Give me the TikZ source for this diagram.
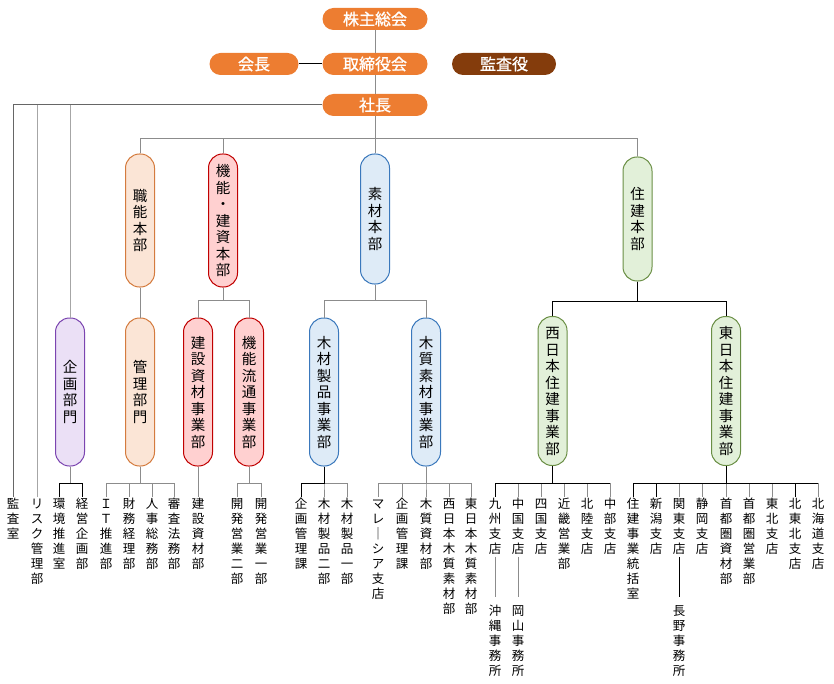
\documentclass[tikz,border=0pt]{standalone}
\usepackage{fontspec}
\setmainfont{Noto Sans CJK JP}
\newfontfamily\pillfont{Noto Sans CJK JP}[FakeBold=1.2]
\makeatletter
\newcommand\vstack[2][15pt]{\vbox{\baselineskip=#1\lineskiplimit=-100pt\lineskip=0pt\@tfor\vs@c:=#2\do{\hbox to 1em{\hss\vrule height .88em depth .12em width 0pt\relax\vs@c\hss}}}}
\makeatother
\definecolor{orangeC}{HTML}{ED7D31}
\definecolor{brownC}{HTML}{843C0C}
\definecolor{linegray}{HTML}{8C8C8C}
\definecolor{orfill}{HTML}{FBE5D6}\definecolor{ordraw}{HTML}{D47B3E}
\definecolor{rdfill}{HTML}{FFD0D0}\definecolor{rddraw}{HTML}{C00000}
\definecolor{blfill}{HTML}{DEEBF7}\definecolor{bldraw}{HTML}{3A78BC}
\definecolor{grfill}{HTML}{E2F0D9}\definecolor{grdraw}{HTML}{6A8F45}
\definecolor{pufill}{HTML}{EBE0F6}\definecolor{pudraw}{HTML}{7B45B0}
\tikzset{
  pill/.style={rounded corners=11pt, fill=orangeC, minimum width=105pt, minimum height=22pt,
    text=white, inner sep=0pt, font=\pillfont\fontsize{16}{16}\selectfont},
  vbx/.style={rounded corners=14pt, minimum width=29pt, line width=1pt, inner sep=0pt,
    font=\fontsize{14.5}{16}\selectfont},
  orbox/.style={vbx, fill=orfill, draw=ordraw},
  rdbox/.style={vbx, fill=rdfill, draw=rddraw},
  blbox/.style={vbx, fill=blfill, draw=bldraw},
  grbox/.style={vbx, fill=grfill, draw=grdraw},
  pubox/.style={vbx, fill=pufill, draw=pudraw},
  leaf/.style={anchor=north, inner sep=0pt, font=\fontsize{12.5}{15}\selectfont},
  conn/.style={line width=1pt, linegray},
}
\newcommand\leaf[3]{\node[leaf] (#1) at (#2,497) {\vstack{#3}};}
\newcommand\sub[3]{\node[leaf] (#1) at (#2,604) {\vstack{#3}};}
\newcommand\conn[3][linegray]{\draw[conn,#1] (#2.south) -- (#2.south |- yb) -| (#3.north);}
\begin{document}
\begin{tikzpicture}[x=1pt,y=-1pt]
\useasboundingbox (0,0) rectangle (834,684);
\coordinate (yb) at (0,483);
\coordinate (y2) at (0,139);
\coordinate (y3) at (0,300);
% top
\node[pill] (kabu) at (375,19) {株主総会};
\node[pill, minimum width=89pt] (kaicho) at (254,64) {会長};
\node[pill] (tori) at (375,64) {取締役会};
\node[pill, fill=brownC, minimum width=104pt] (kansayaku) at (504,64) {監査役};
\node[pill] (shacho) at (375,105) {社長};
\draw[conn] (kabu) -- (tori);
\draw[conn, black] (kaicho) -- (tori);
\draw[conn] (tori) -- (shacho);
% level 2
\node[orbox, minimum height=133pt] (shokuno) at (140,220.5) {\vstack[16.5pt]{職能本部}};
\node[rdbox, minimum height=133pt] (kinou) at (223,220.5) {\vstack[16.5pt]{機能・建資本部}};
\node[blbox, minimum height=130pt] (sozai) at (375,219) {\vstack[16.5pt]{素材本部}};
\node[grbox, minimum height=124pt] (juken) at (637.5,219) {\vstack[16.5pt]{住建本部}};
\draw[conn] (shacho) -- (sozai);
\draw[conn] (shokuno.north) |- (juken.north |- y2) -- (juken.north);
\draw[conn] (kinou.north) -- (kinou.north |- y2);
% level 3
\node[pubox, minimum height=148pt] (kikakubu) at (70,392) {\vstack[16.5pt]{企画部門}};
\node[orbox, minimum height=148pt] (kanri) at (140,392) {\vstack[16.5pt]{管理部門}};
\node[rdbox, minimum height=148pt] (kensetsu) at (198,392) {\vstack[16.5pt]{建設資材事業部}};
\node[rdbox, minimum height=148pt] (ryutsu) at (249,392) {\vstack[16.5pt]{機能流通事業部}};
\node[blbox, minimum height=148pt] (mokuzai) at (324,392) {\vstack[16.5pt]{木材製品事業部}};
\node[blbox, minimum height=148pt] (mokushitsu) at (426,392) {\vstack[16.5pt]{木質素材事業部}};
\node[grbox, minimum height=149pt] (nishi) at (552.5,391) {\vstack[16.5pt]{西日本住建事業部}};
\node[grbox, minimum height=149pt] (higashi) at (726,391) {\vstack[16.5pt]{東日本住建事業部}};
\draw[conn] (shokuno) -- (kanri);
\draw[conn] (kinou.south) -- (kinou.south |- y3);
\draw[conn] (kensetsu.north) |- (ryutsu.north |- y3) -- (ryutsu.north);
\draw[conn] (sozai.south) -- (sozai.south |- y3);
\draw[conn] (mokuzai.north) |- (mokushitsu.north |- y3) -- (mokushitsu.north);
\draw[conn, black] (juken.south) -- (juken.south |- 0,301);
\draw[conn, black] (nishi.north) |- (higashi.north |- 0,301) -- (higashi.north);
% leaves
\leaf{kansa}{13}{監査室}
\leaf{risk}{37}{リスク管理部}
\draw[conn, gray!80!black] (shacho.west) -| (kansa.north);
\draw[conn, gray!70] (shacho.west -| risk.north) -- (risk.north);
\draw[conn, gray!70] (shacho.west -| kikakubu.north) -- (kikakubu.north);
\leaf{kankyo}{59}{環境推進室}
\leaf{keiei}{82}{経営企画部}
\draw[conn] (kikakubu.south) -- (kikakubu.south |- yb);
\draw[conn, black] (kankyo.north) |- (keiei.north |- yb) -- (keiei.north);
\leaf{it}{106}{ＩＴ推進部}
\leaf{zaimu}{129}{財務経理部}
\leaf{jinji}{152}{人事総務部}
\leaf{shinsa}{174}{審査法務部}
\conn{kanri}{it}\conn{kanri}{zaimu}\conn{kanri}{jinji}\conn{kanri}{shinsa}
\leaf{kenzai}{198}{建設資材部}
\draw[conn] (kensetsu) -- (kenzai);
\leaf{kaihatsu2}{237}{開発営業二部}
\leaf{kaihatsu1}{261}{開発営業一部}
\conn{ryutsu}{kaihatsu2}\conn{ryutsu}{kaihatsu1}
\leaf{kikakukanri1}{301}{企画管理課}
\leaf{mokuzai2}{324}{木材製品二部}
\leaf{mokuzai1}{347}{木材製品一部}
\conn{mokuzai}{mokuzai2}\conn{mokuzai}{mokuzai1}\conn[black]{mokuzai}{kikakukanri1}
\leaf{malaysia}{378}{マレ｜シア支店}
\leaf{kikakukanri2}{402}{企画管理課}
\leaf{mokushitsuzai}{426}{木質資材部}
\leaf{nishimoku}{449}{西日本木質素材部}
\leaf{higashimoku}{471}{東日本木質素材部}
\conn{mokushitsu}{malaysia}\conn{mokushitsu}{kikakukanri2}\conn{mokushitsu}{mokushitsuzai}
\conn{mokushitsu}{nishimoku}\conn{mokushitsu}{higashimoku}
% west
\leaf{kyushu}{495}{九州支店}
\leaf{chugoku}{518}{中国支店}
\leaf{shikoku}{541}{四国支店}
\leaf{kinki}{564}{近畿営業部}
\leaf{hokuriku}{587}{北陸支店}
\leaf{chubu}{610}{中部支店}
\conn{nishi}{chugoku}\conn{nishi}{shikoku}\conn{nishi}{kinki}\conn{nishi}{hokuriku}\conn{nishi}{chubu}
\conn[black]{nishi}{kyushu}
\draw[conn, black] (kyushu.north |- yb) -- (chubu.north |- yb);
\sub{okinawa}{495}{沖縄事務所}
\sub{okayama}{518}{岡山事務所}
\draw[conn, shorten <=2pt, shorten >=7pt] (kyushu.south) -- (okinawa.north);
\draw[conn, shorten <=2pt, shorten >=7pt] (chugoku.south) -- (okayama.north);
% east
\leaf{tokatsu}{633}{住建事業統括室}
\leaf{niigata}{656}{新潟支店}
\leaf{kanto}{679}{関東支店}
\leaf{shizuoka}{702}{静岡支店}
\leaf{shutoshizai}{726}{首都圏資材部}
\leaf{shutoeigyo}{749}{首都圏営業部}
\leaf{tohoku}{772}{東北支店}
\leaf{kitatohoku}{795}{北東北支店}
\leaf{hokkaido}{818}{北海道支店}
\conn{higashi}{kanto}\conn{higashi}{shizuoka}\conn{higashi}{shutoshizai}\conn{higashi}{shutoeigyo}
\conn{higashi}{tohoku}\conn{higashi}{hokkaido}
\conn[black]{higashi}{tokatsu}\conn[black]{higashi}{niigata}\conn[black]{higashi}{kitatohoku}
\draw[conn, black] (higashi.south) -- (higashi.south |- yb);
\draw[conn, black] (tokatsu.north |- yb) -- (hokkaido.north |- yb);
\sub{nagano}{679}{長野事務所}
\draw[conn, black, shorten <=2pt, shorten >=7pt] (kanto.south) -- (nagano.north);
\end{tikzpicture}
\end{document}
